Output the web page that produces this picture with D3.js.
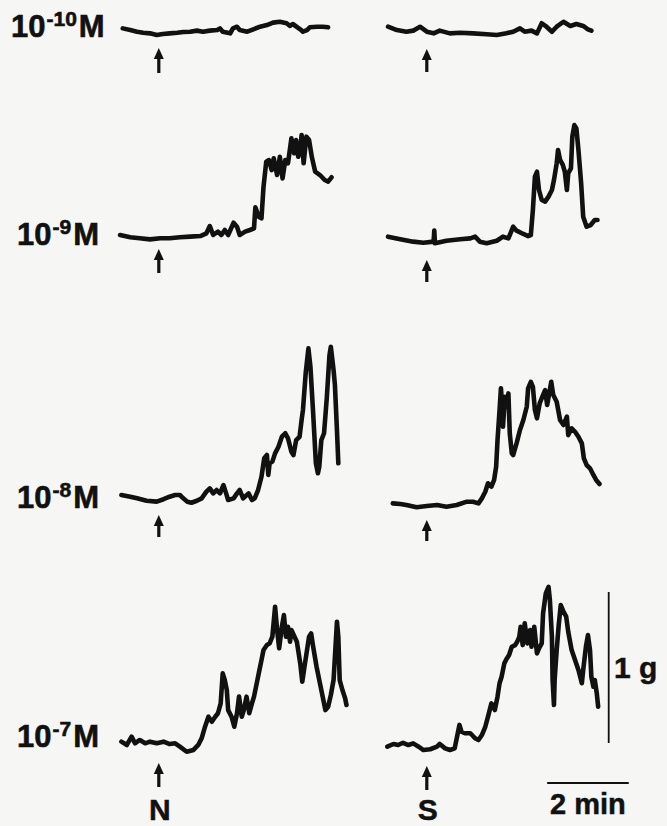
<!DOCTYPE html>
<html><head><meta charset="utf-8">
<script src="https://cdn.jsdelivr.net/npm/d3@7"></script>
<style>html,body{margin:0;padding:0;background:#f6f7f5;}svg{display:block;}</style>
</head><body>
<script>
// ---- DATA: [time (s), tension (mg above baseline)] ----
const concentrations = ["-10", "-9", "-8", "-7"];
const agonists = ["N", "S"];
const arrowTime = 60; // s, drug addition
const scaleTime = 120; // s (2 min)
const scaleForce = 1000; // mg (1 g)

const N_10 = [[7,24],[18,13],[28,2],[37,-5],[47,-9],[57,-20],[66,-13],[76,-9],[87,-5],[96,0],[106,2],[116,9],[125,2],[135,9],[146,13],[150,24],[154,2],[165,-9],[169,24],[175,35],[179,13],[190,2],[199,18],[209,35],[219,46],[228,62],[238,68],[248,58],[253,40],[257,53],[268,18],[272,2],[278,13],[282,31],[293,35],[301,35],[309,31]];
const S_10 = [[3,35],[16,13],[30,2],[40,9],[50,35],[60,2],[70,-9],[79,9],[94,-9],[109,-5],[128,-9],[148,-15],[163,-20],[177,-9],[187,2],[197,24],[204,2],[214,9],[222,-9],[229,58],[236,35],[244,2],[251,35],[261,68],[271,40],[280,53],[290,40],[297,18],[302,9]];
const N_9 = [[3,20],[18,5],[32,-2],[47,-9],[62,-2],[76,-2],[91,5],[106,9],[121,13],[130,31],[135,79],[140,20],[147,42],[152,20],[157,53],[162,20],[170,101],[175,75],[179,20],[187,42],[194,53],[200,64],[202,203],[207,141],[211,130],[214,340],[218,505],[222,516],[226,450],[229,528],[234,417],[238,538],[242,395],[246,516],[250,495],[255,660],[259,561],[262,649],[265,538],[268,583],[270,682],[273,495],[277,671],[281,649],[285,538],[290,439],[297,417],[304,384],[309,373],[314,402]];
const S_9 = [[3,22],[21,5],[40,-11],[55,-18],[70,-11],[71,62],[72,-22],[89,-5],[109,5],[124,11],[131,22],[138,-11],[148,-22],[163,-5],[172,22],[180,11],[185,66],[187,88],[192,62],[202,40],[209,26],[213,33],[216,199],[219,419],[222,452],[225,331],[229,265],[234,254],[239,287],[244,331],[247,397],[251,508],[253,596],[256,530],[260,497],[263,452],[266,331],[268,442],[272,475],[274,684],[277,761],[280,739],[283,596],[287,375],[290,154],[295,88],[301,99],[307,132],[311,132]];
const N_8 = [[5,33],[18,22],[28,11],[42,-5],[57,-11],[67,5],[76,22],[84,33],[91,33],[96,11],[102,-11],[108,-18],[116,-5],[123,11],[130,55],[135,77],[140,44],[145,66],[150,44],[155,99],[159,44],[162,0],[170,11],[175,44],[179,66],[184,11],[192,44],[197,0],[201,11],[206,66],[211,154],[215,276],[219,298],[221,166],[223,243],[227,254],[231,309],[236,353],[241,419],[246,442],[250,408],[255,320],[258,298],[262,397],[267,419],[270,530],[272,596],[276,839],[280,1004],[283,882],[287,574],[291,243],[294,177],[296,220],[299,397],[303,442],[307,673],[311,960],[313,1015],[317,861],[319,761],[322,463],[324,243]];
const S_8 = [[10,11],[21,7],[30,0],[45,-15],[60,-7],[75,0],[89,-11],[104,0],[119,22],[128,22],[136,11],[141,44],[146,88],[150,144],[155,121],[159,166],[162,254],[164,430],[167,629],[169,773],[171,651],[172,518],[175,717],[177,651],[180,739],[182,475],[185,342],[187,331],[192,408],[197,497],[202,563],[207,651],[209,773],[213,816],[216,783],[219,629],[222,574],[226,673],[230,717],[234,761],[237,662],[240,739],[243,816],[246,728],[251,684],[256,563],[261,530],[266,585],[268,463],[273,508],[278,485],[283,452],[288,408],[291,309],[295,265],[300,243],[305,199],[309,166],[314,139]];
const N_7 = [[5,9],[13,-13],[20,42],[25,-2],[32,20],[40,-2],[47,9],[57,-2],[67,9],[76,-7],[84,-2],[91,-24],[101,-58],[111,-46],[118,-13],[123,31],[128,108],[133,174],[138,141],[143,174],[147,197],[151,263],[154,461],[157,417],[160,351],[162,218],[167,174],[171,108],[175,197],[178,307],[182,174],[185,218],[189,307],[193,197],[197,263],[200,307],[204,395],[208,483],[211,549],[214,616],[219,649],[223,660],[227,704],[231,902],[234,748],[237,627],[241,770],[244,847],[247,704],[250,770],[253,671],[255,748],[263,671],[268,528],[271,406],[275,528],[278,616],[281,704],[284,726],[287,638],[292,505],[297,395],[302,285],[305,218],[309,240],[313,318],[317,417],[319,571],[322,803],[324,704],[326,417],[330,351],[334,296],[336,252]];
const S_7 = [[2,2],[11,20],[18,13],[25,28],[33,13],[40,24],[48,2],[55,-20],[65,-15],[75,2],[79,20],[87,-9],[94,-20],[101,-9],[105,79],[108,146],[111,101],[116,91],[124,91],[131,58],[136,46],[141,79],[146,134],[150,201],[155,289],[160,245],[164,333],[167,422],[170,465],[174,554],[177,581],[181,609],[185,664],[190,675],[193,697],[196,730],[198,796],[201,675],[204,819],[208,686],[212,775],[214,664],[218,796],[222,620],[225,653],[229,686],[231,885],[235,1017],[239,1061],[241,973],[244,730],[245,444],[247,278],[248,444],[251,642],[254,808],[257,940],[261,896],[265,863],[268,763],[273,642],[278,576],[283,510],[288,422],[290,510],[294,664],[297,741],[300,642],[302,465],[305,399],[307,444],[310,355],[312,267]];

const traces = [
  [N_10, S_10],
  [N_9, S_9],
  [N_8, S_8],
  [N_7, S_7]
];

// ---- LAYOUT ----
const W = 667, H = 826;
const colX0 = [118, 386];           // pixel of t=0 in each column
const pxPerSec = 81.6 / 120;
const pxPerMg = 151 / 1000;
const baseY = [[32, 32], [238, 240], [500, 505], [743, 747]];
const arrowY = [[[48,73],[49,72]], [[249,273],[260,282]], [[515,537],[520,541]], [[763,787],[766,790]]];
const labelPos = [[11,37],[17,245],[17,508],[17,747]];
const ink = "#111111";

const svg = d3.select("body").append("svg").attr("width", W).attr("height", H);
svg.append("rect").attr("width", W).attr("height", H).attr("fill", "#f6f7f5");

const xScales = colX0.map(x0 => d3.scaleLinear().domain([0, 120]).range([x0, x0 + 120 * pxPerSec]));
const font = "'Liberation Sans', Arial, Helvetica, sans-serif";

traces.forEach((row, ri) => {
  row.forEach((data, ci) => {
    const x = xScales[ci];
    const y = d3.scaleLinear().domain([0, 1000]).range([baseY[ri][ci], baseY[ri][ci] - 1000 * pxPerMg]);
    const line = d3.line().x(d => x(d[0])).y(d => y(d[1])).curve(d3.curveLinear);
    svg.append("path").datum(data).attr("d", line)
      .attr("fill", "none").attr("stroke", ink).attr("stroke-width", 4.6)
      .attr("stroke-linejoin", "round").attr("stroke-linecap", "round");
    // arrow
    const ax = x(arrowTime), [a0, a1] = arrowY[ri][ci];
    const g = svg.append("g");
    g.append("line").attr("x1", ax).attr("x2", ax).attr("y1", a0 + 8).attr("y2", a1)
      .attr("stroke", ink).attr("stroke-width", 3.2);
    g.append("path").attr("d", `M${ax},${a0} L${ax - 5},${a0 + 11} L${ax + 5},${a0 + 11} Z`).attr("fill", ink);
  });
  // concentration label
  const [lx, ly] = labelPos[ri];
  const t = svg.append("text").attr("x", lx).attr("y", ly)
    .attr("font-family", font).attr("font-weight", "bold").attr("font-size", 31).attr("fill", ink)
    .attr("stroke", ink).attr("stroke-width", 0.6);
  t.append("tspan").text("10");
  t.append("tspan").attr("font-size", 21).attr("dy", -11).attr("dx", 1).text(concentrations[ri]);
  t.append("tspan").attr("dy", 11).attr("dx", 2).text("M");
});

// agonist labels
agonists.forEach((a, ci) => {
  svg.append("text").attr("x", xScales[ci](arrowTime) + 1).attr("y", 820)
    .attr("text-anchor", "middle").attr("font-family", font).attr("font-weight", "bold")
    .attr("font-size", 30).attr("fill", ink).attr("stroke", ink).attr("stroke-width", 0.5).text(a);
});

// scale bars
const xs = xScales[1];
const yBar = d3.scaleLinear().domain([0, 1000]).range([743, 743 - 1000 * pxPerMg]);
const barX = 608.7;
svg.append("line").attr("x1", barX).attr("x2", barX).attr("y1", yBar(0)).attr("y2", yBar(scaleForce))
  .attr("stroke", ink).attr("stroke-width", 1.8);
svg.append("text").attr("x", 614).attr("y", 678).attr("font-family", font).attr("font-weight", "bold")
  .attr("font-size", 30).attr("fill", ink).attr("stroke", ink).attr("stroke-width", 0.5).text("1 g");
const t0 = 237;
svg.append("line").attr("x1", xs(t0)).attr("x2", xs(t0 + scaleTime)).attr("y1", 783).attr("y2", 783)
  .attr("stroke", ink).attr("stroke-width", 2);
svg.append("text").attr("x", (xs(t0) + xs(t0 + scaleTime)) / 2).attr("y", 814)
  .attr("text-anchor", "middle").attr("font-family", font).attr("font-weight", "bold")
  .attr("font-size", 29).attr("fill", ink).attr("stroke", ink).attr("stroke-width", 0.5).text("2 min");
</script>
</body></html>
